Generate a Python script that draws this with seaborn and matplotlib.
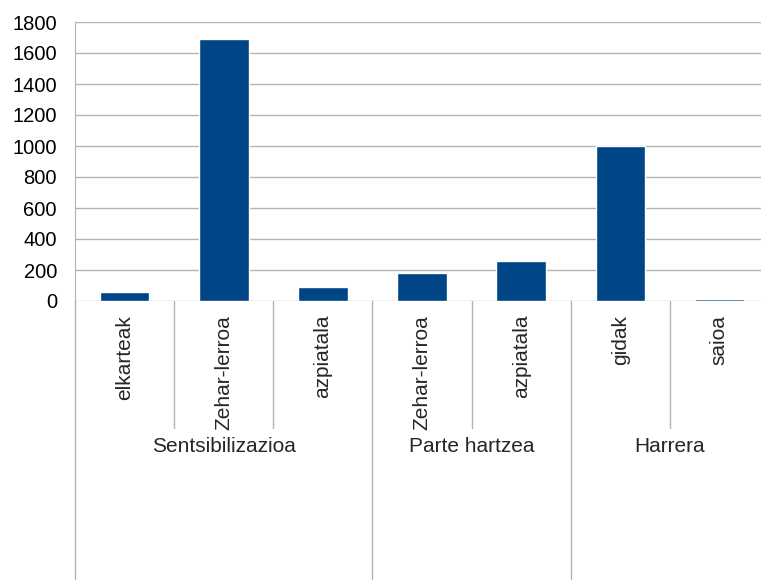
import pandas as pd
import seaborn as sns
import matplotlib.pyplot as plt
import matplotlib.transforms as mtransforms

# data
groups = ["Sentsibilizazioa", "Parte hartzea", "Harrera"]
group_sizes = [3, 2, 2]
sub_labels = ["elkarteak", "Zehar-lerroa", "azpiatala",
              "Zehar-lerroa", "azpiatala",
              "gidak", "saioa"]
values = [60, 1690, 90, 180, 260, 1000, 15]

# unique keys so that repeated sub labels stay separate bars
group_of = [g for g, n in zip(groups, group_sizes) for _ in range(n)]
keys = [g + "|" + s for g, s in zip(group_of, sub_labels)]
df = pd.DataFrame({"key": keys, "value": values})

sns.set_style("white")
plt.rcParams['font.family'] = ['Liberation Sans', 'DejaVu Sans']

fig = plt.figure(figsize=(7.61, 5.8), dpi=100)
ax = fig.add_axes([75 / 761, 1 - 301 / 580, 694 / 761, 279 / 580])

sns.barplot(data=df, x="key", y="value", order=keys, color="#004586",
            saturation=1, width=0.5, ax=ax)

grid_c = "#b3b3b3"
ax.set_ylim(0, 1800)
ax.set_xlim(-0.5, len(keys) - 0.5)
ax.set_yticks(range(0, 1801, 200))
ax.yaxis.grid(True, color=grid_c, linewidth=1)
ax.set_axisbelow(True)
for side in ["top", "right", "bottom"]:
    ax.spines[side].set_visible(False)
ax.spines["left"].set_color(grid_c)
ax.tick_params(axis="y", length=8, color=grid_c, labelsize=14.5,
               labelcolor="#000000", pad=5)
ax.set_xlabel("")
ax.set_ylabel("")

ax.set_xticks(range(len(keys)))
ax.set_xticklabels(sub_labels, rotation=90, va="top", ha="center", fontsize=15)
ax.tick_params(axis="x", length=0, pad=10)

# hierarchical axis separators and group labels
trans = mtransforms.blended_transform_factory(ax.transData, ax.transAxes)
start = 0
for g, n in zip(groups, group_sizes):
    ax.plot([start - 0.5, start - 0.5], [0, -1.0], color=grid_c, lw=1,
            transform=trans, clip_on=False)
    for k in range(1, n):
        ax.plot([start + k - 0.5] * 2, [0, -0.455], color=grid_c, lw=1,
                transform=trans, clip_on=False)
    ax.text(start + (n - 1) / 2, -0.523, g, transform=trans, ha="center",
            va="center", fontsize=15)
    start += n
ax.plot([start - 0.5] * 2, [0, -1.0], color=grid_c, lw=1,
        transform=trans, clip_on=False)

fig.savefig("out.png", dpi=100)
